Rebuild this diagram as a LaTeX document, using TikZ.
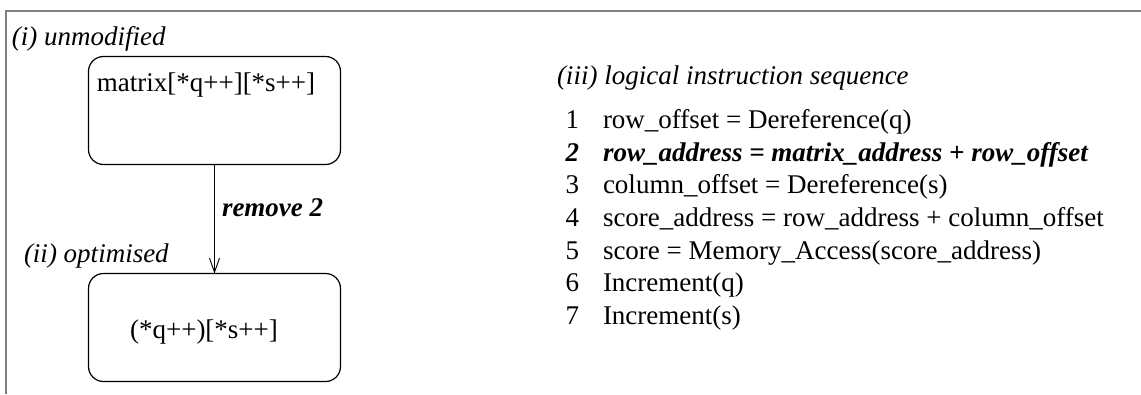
\documentclass[tikz,border=0pt]{standalone}
\usepackage{fontspec}
\setmainfont{Liberation Serif}
\usetikzlibrary{arrows.meta}
\begin{document}
\begin{tikzpicture}[x=1pt,y=-1pt,
  every node/.style={inner sep=0pt, outer sep=0pt, font=\fontsize{27}{33}\selectfont},
  frameline/.style={draw=black!50, line width=2.3pt},
  stagebox/.style={draw=black, line width=1.2pt, rounded corners=15pt,
                   minimum width=252pt, minimum height=108pt},
  flow/.style={draw=black, line width=0.9pt,
               -{Straight Barb[length=14pt, width=10pt, line width=0.9pt]}},
  lbl/.style={anchor=base west},
  num/.style={anchor=base east},
  stmt/.style={anchor=base west}
]
\useasboundingbox (0,0) rectangle (1141,394);

% outer frame (top and left edges)
\draw[frameline] (6,394) -- (6,11) -- (1141,11);

% left column: the two forms of the expression
\node[lbl] (lunmod) at (12,45) {\itshape (i) unmodified};
\node[stagebox] (b1) at (214.5,110.5) {};
\node[anchor=base] (e1) at (206,91) {matrix[*q++][*s++]};

\node[lbl] (lopt) at (24,262) {\itshape (ii) optimised};
\node[stagebox] (b2) at (214.5,327.5) {};
\node[anchor=base] (e2) at (204,338) {(*q++)[*s++]};

\draw[flow] (b1.south) -- (b2.north);
\node[lbl] (rm) at (222,216) {\bfseries\itshape remove 2};

% right column: the instruction sequence
\node[lbl] (lseq) at (557,84) {\itshape (iii) logical instruction sequence};

\node[num] (n1) at (579,128) {1};
\node[stmt] (s1) at (603,128) {row\_offset = Dereference(q)};
\node[num] (n2) at (579,161) {\bfseries\itshape 2};
\node[stmt] (s2) at (603,161) {\bfseries\itshape row\_address = matrix\_address + row\_offset};
\node[num] (n3) at (579,193.5) {3};
\node[stmt] (s3) at (603,193.5) {column\_offset = Dereference(s)};
\node[num] (n4) at (579,226) {4};
\node[stmt] (s4) at (603,226) {score\_address = row\_address + column\_offset};
\node[num] (n5) at (579,259) {5};
\node[stmt] (s5) at (603,259) {score = Memory\_Access(score\_address)};
\node[num] (n6) at (579,291.5) {6};
\node[stmt] (s6) at (603,291.5) {Increment(q)};
\node[num] (n7) at (579,324) {7};
\node[stmt] (s7) at (603,324) {Increment(s)};
\end{tikzpicture}
\end{document}
